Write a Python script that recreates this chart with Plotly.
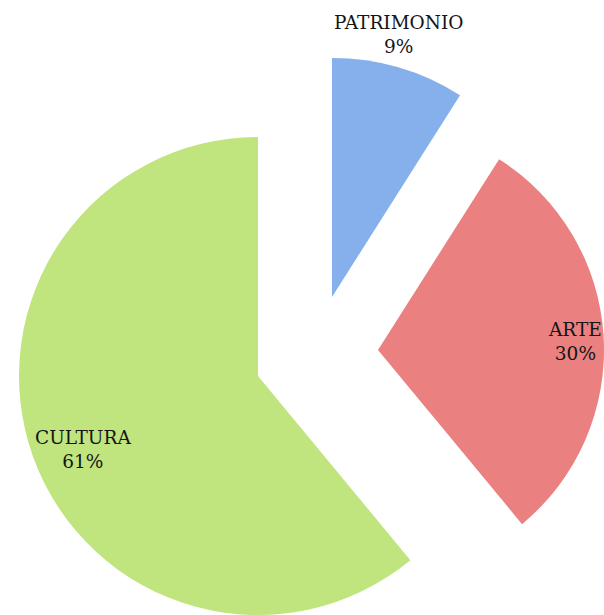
import plotly.graph_objects as go

# ---- data ----
categories = ["PATRIMONIO", "ARTE", "CULTURA"]
values = [9, 30, 61]

# ---- style / layout ----
W, H = 604, 615
colors = ["#86B0EC", "#EA8080", "#C0E47E"]
# apex (pixel) and radius of each exploded slice
apex = [(332, 297), (378, 350), (258, 376)]
radius = [239, 226, 239]
label_pos = [(398, 35), (575, 341), (83, 449)]

fig = go.Figure()
for i in range(len(categories)):
    cx, cy = apex[i]
    r = radius[i]
    dx = [max(0.0, (cx - r) / W), min(1.0, (cx + r) / W)]
    dy = [max(0.0, 1 - (cy + r) / H), min(1.0, 1 - (cy - r) / H)]
    cols = [colors[j] if j == i else "rgba(0,0,0,0)" for j in range(len(categories))]
    fig.add_trace(go.Pie(
        labels=categories,
        values=values,
        sort=False,
        direction="clockwise",
        rotation=0,
        marker=dict(colors=cols, line=dict(width=0)),
        textinfo="none",
        hoverinfo="skip",
        domain=dict(x=dx, y=dy),
        showlegend=False,
    ))

for i, cat in enumerate(categories):
    px, py = label_pos[i]
    fig.add_annotation(
        x=px / W, y=1 - py / H, xref="paper", yref="paper",
        text=f"{cat}<br>{values[i]}%",
        showarrow=False, xanchor="center", yanchor="middle",
        font=dict(family="DejaVu Serif", size=18.5, color="#151515"),
    )

fig.update_layout(
    width=W, height=H,
    margin=dict(l=0, r=0, t=0, b=0),
    paper_bgcolor="white", plot_bgcolor="white",
)
fig.write_html(
    "out.html",
    config={"displayModeBar": False},
    post_script="document.body.style.margin='0';document.body.style.overflow='hidden';",
)
